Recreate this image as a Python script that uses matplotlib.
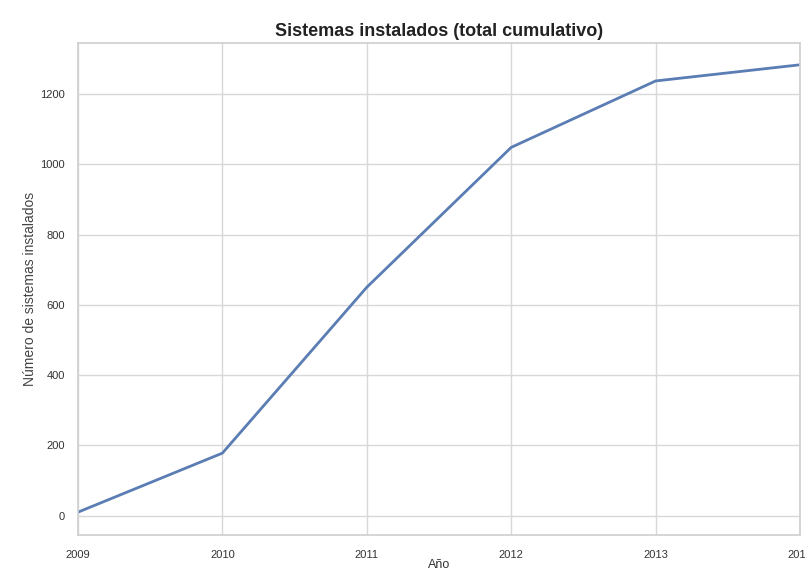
import matplotlib
matplotlib.use("Agg")
import matplotlib.pyplot as plt
import seaborn as sns

years = [2009, 2010, 2011, 2012, 2013, 2014]
installed = [10, 178, 650, 1048, 1237, 1283]
tick_labels = ["2009", "2010", "2011", "2012", "2013", "2014"]

sns.set_theme(style="whitegrid")
plt.rcParams['font.family'] = ['Liberation Sans', 'DejaVu Sans']

fig = plt.figure(figsize=(8.05, 5.71), dpi=100)
ax = fig.add_axes([78/805, 1-535/571, (800-78)/805, (535-43)/571])
ax.plot(years, installed, color="#5a7db4", linewidth=2)
ax.set_xlim(2009, 2014)
ax.set_xticks(years)
ax.set_xticklabels(tick_labels, fontsize=8, color="#333333")
ax.set_yticks([0, 200, 400, 600, 800, 1000, 1200])
ax.tick_params(axis='y', labelsize=8, labelcolor="#333333")
ax.tick_params(axis='x', pad=5)
ax.set_ylim(-55, 1345)
ax.set_xlabel("Año", fontsize=9, color="#333333", labelpad=-1)
ax.set_ylabel("Número de sistemas instalados", fontsize=10, color="#444444", labelpad=2)
ax.set_title("Sistemas instalados (total cumulativo)", fontsize=13, fontweight="bold", color="#222222", pad=5)
for s in ax.spines.values():
    s.set_color("#d0d0d0")
ax.grid(color="#d8d8d8", linewidth=1)

fig.savefig("out.png", dpi=100)
